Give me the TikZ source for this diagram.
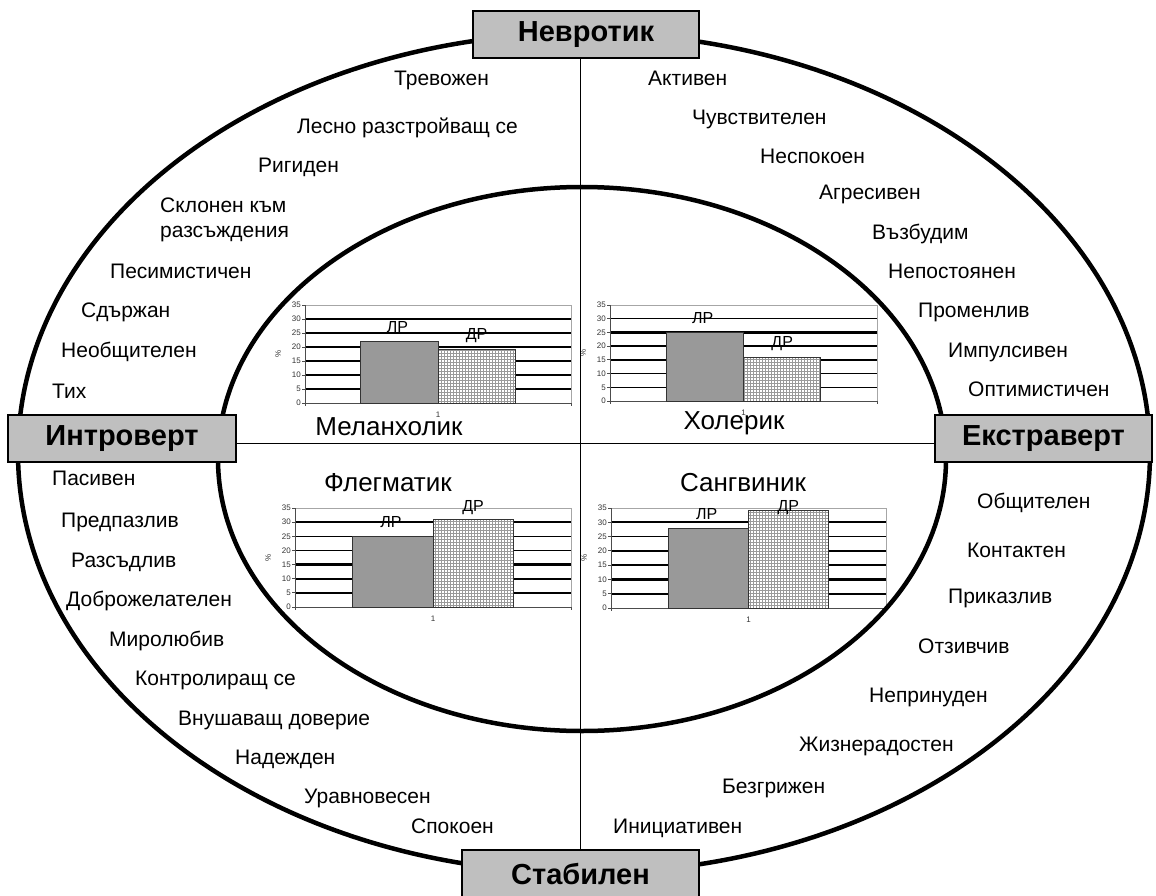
\documentclass[tikz,border=0pt]{standalone}
\usepackage{fontspec}
\setmainfont{Liberation Sans}
\usetikzlibrary{patterns}

\tikzset{
  ring/.style={line width=4.5pt},
  crossline/.style={line width=1.5pt},
  catbox/.style={draw, line width=1.8pt, fill=gray!50, inner sep=0pt, minimum height=47pt,
     font=\fontsize{29}{34}\selectfont\bfseries},
  word/.style={anchor=west, inner sep=0pt, text height=15pt, text depth=4pt,
     font=\fontsize{21}{25}\selectfont},
  gridthin/.style={line width=1.3pt},
  gridthick/.style={line width=2.4pt},
  frame/.style={draw=gray!70, line width=0.6pt},
  axisline/.style={draw=gray!60!black, line width=0.8pt},
  tick/.style={inner sep=0pt, font=\fontsize{8}{9}\selectfont, text=black!80},
  barlr/.style={fill=gray!80, draw=black!80, line width=1pt},
  bardr/.style={preaction={fill=white}, pattern=grid, pattern color=gray!80, draw=black!80, line width=1pt},
  barlabel/.style={inner sep=0pt, font=\fontsize{16}{18}\selectfont},
  ctitle/.style={inner sep=0pt, font=\fontsize{26}{30}\selectfont}
}

% #1 prefix, #2 x0, #3 x1, #4 ytop, #5 ybot, #6 vLR, #7 vDR, #8 thick list, #9 thin list
\newcommand{\drawchart}[9]{%
  \pgfmathsetmacro{\chu}{(#5-#4)/35}
  \pgfmathsetmacro{\chc}{(#2+#3)/2}
  \pgfmathsetmacro{\chw}{0.29*(#3-#2)}
  \pgfmathsetmacro{\chl}{#5-#6*\chu}
  \pgfmathsetmacro{\chd}{#5-#7*\chu}
  \pgfmathsetmacro{\chll}{max(\chl-14,#4)}
  \pgfmathsetmacro{\chdl}{max(\chd-14,#4)}
  \foreach \v in {#9}{\draw[gridthin] (#2,{#5-\v*\chu}) -- (#3,{#5-\v*\chu});}
  \foreach \v in {#8}{\draw[gridthick] (#2,{#5-\v*\chu}) -- (#3,{#5-\v*\chu});}
  \draw[frame] (#2,#4) -- (#3,#4) -- (#3,#5);
  \draw[axisline] (#2,#4) -- (#2,#5) -- (#3,#5);
  \foreach \v in {0,5,...,35}{%
    \draw[axisline] (#2-3,{#5-\v*\chu}) -- (#2,{#5-\v*\chu});
    \node[tick, anchor=east] (#1t\v) at (#2-4,{#5-\v*\chu}) {\v};}
  \draw[axisline] (#2,#5) -- (#2,#5+3);
  \draw[axisline] (#3,#5) -- (#3,#5+3);
  \draw[barlr] ({\chc-\chw},#5) rectangle (\chc,\chl);
  \draw[bardr] (\chc,#5) rectangle ({\chc+\chw},\chd);
  \node[barlabel] (#1lr) at ({\chc-\chw/2-2},\chll) {ЛР};
  \node[barlabel] (#1dr) at ({\chc+\chw/2},\chdl) {ДР};
  \node[tick] (#1cat) at (\chc,#5+12) {1};
  \node[tick, rotate=90] (#1pct) at (#2-27,{(#4+#5)/2}) {\%};
}

\begin{document}
\begin{tikzpicture}[x=1pt, y=-1pt]
\useasboundingbox (0,0) rectangle (1156,896);

% charts
\drawchart{m}{305}{571}{305}{403}{22}{19}{20,15}{5,10,25,30}
\drawchart{h}{610}{877}{305}{401}{25}{16}{25}{5,10,15,20,30}
\drawchart{f}{295}{571}{508}{607}{25}{31}{10,15}{5,20,25,30}
\drawchart{s}{611}{886}{508}{608}{28}{34}{5,10,30}{15,20,25}

\node[ctitle] (tmel) at (389,427) {Меланхолик};
\node[ctitle] (thol) at (734,423) {Холерик};
\node[ctitle] (tfle) at (388,483) {Флегматик};
\node[ctitle] (tsan) at (743,483) {Сангвиник};

% ellipses
\draw[ring] (584,453) ellipse [x radius=566pt, y radius=420pt];
\draw[ring] (582,459) ellipse [x radius=364pt, y radius=272pt];

% category boxes
\node[catbox, minimum width=226pt] (nevr) at (586,34.5) {Невротик};
\node[catbox, minimum width=228pt] (intro) at (122,438.5) {Интроверт};
\node[catbox, minimum width=217pt] (extra) at (1043.5,438.5) {Екстраверт};
\node[catbox, minimum width=237pt] (stab) at (580.5,873.5) {Стабилен};

\draw[crossline] (stab.north |- nevr.south) -- (stab.north);
\draw[crossline] ([yshift=-5pt]intro.east) -- ([yshift=-5pt]extra.west);

% upper left
\node[word] (w1) at (394,80) {Тревожен};
\node[word] (w2) at (297,128) {Лесно разстройващ се};
\node[word] (w3) at (258,167) {Ригиден};
\node[word] (w4) at (160,207) {Склонен към};
\node[word] (w5) at (160,232) {разсъждения};
\node[word] (w6) at (110,273) {Песимистичен};
\node[word] (w7) at (81,312) {Сдържан};
\node[word] (w8) at (61,352) {Необщителен};
\node[word] (w9) at (52,393) {Тих};

% upper right
\node[word] (w10) at (648,80) {Активен};
\node[word] (w11) at (692,119) {Чувствителен};
\node[word] (w12) at (760,158) {Неспокоен};
\node[word] (w13) at (819,194) {Агресивен};
\node[word] (w14) at (872,234) {Възбудим};
\node[word] (w15) at (888,273) {Непостоянен};
\node[word] (w16) at (918,312) {Променлив};
\node[word] (w17) at (948,352) {Импулсивен};
\node[word] (w18) at (968,391) {Оптимистичен};

% lower left
\node[word] (w19) at (52,480) {Пасивен};
\node[word] (w20) at (61,522) {Предпазлив};
\node[word] (w21) at (71,562) {Разсъдлив};
\node[word] (w22) at (66,601) {Доброжелателен};
\node[word] (w23) at (109,641) {Миролюбив};
\node[word] (w24) at (135,680) {Контролиращ се};
\node[word] (w25) at (178,720) {Внушаващ доверие};
\node[word] (w26) at (235,759) {Надежден};
\node[word] (w27) at (304,798) {Уравновесен};
\node[word] (w28) at (411,828) {Спокоен};

% lower right
\node[word] (w29) at (977,503) {Общителен};
\node[word] (w30) at (967,552) {Контактен};
\node[word] (w31) at (948,598) {Приказлив};
\node[word] (w32) at (918,648) {Отзивчив};
\node[word] (w33) at (869,697) {Непринуден};
\node[word] (w34) at (799,746) {Жизнерадостен};
\node[word] (w35) at (722,788) {Безгрижен};
\node[word] (w36) at (613,828) {Инициативен};
\end{tikzpicture}
\end{document}
